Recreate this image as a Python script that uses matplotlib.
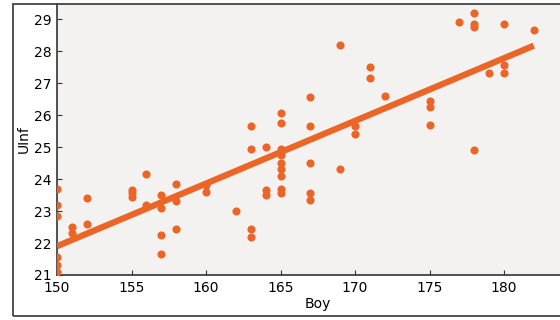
import numpy as np
import matplotlib
matplotlib.use("Agg")
import matplotlib.pyplot as plt
from matplotlib.patches import Rectangle

# data (Boy vs UInf)
boy_vals = {
    150: [23.7, 23.2, 22.85, 21.55, 21.3, 21.1],
    151: [22.5, 22.3],
    152: [23.4, 22.6],
    155: [23.65, 23.55, 23.45],
    156: [24.15, 23.2],
    157: [23.5, 23.1, 22.25, 21.65],
    158: [23.85, 23.3, 22.45],
    160: [23.8, 23.6],
    162: [23.0],
    163: [25.65, 24.95, 22.45, 22.2],
    164: [25.0, 23.65, 23.5],
    165: [26.05, 25.75, 24.95, 24.75, 24.5, 24.3, 24.1, 23.7, 23.55],
    167: [26.55, 25.65, 24.5, 23.55, 23.35],
    169: [28.2, 24.3],
    170: [25.65, 25.4],
    171: [27.5, 27.15],
    172: [26.6],
    175: [26.45, 26.25, 25.7],
    177: [28.9],
    178: [29.2, 28.85, 28.75, 24.9],
    179: [27.3],
    180: [28.85, 27.55, 27.3],
    182: [28.65],
}
boy = np.array([k for k, v in boy_vals.items() for _ in v], dtype=float)
uinf = np.array([y for v in boy_vals.values() for y in v], dtype=float)

x_ticks = [150, 155, 160, 165, 170, 175, 180]
y_ticks = [21, 22, 23, 24, 25, 26, 27, 28, 29]

fig = plt.figure(figsize=(5.6, 3.2), dpi=100, facecolor="white")
ax = fig.add_axes([57/560, 1-275/320, (578.5-57)/560, (275-4)/320])
ax.set_facecolor("#f3f2f0")

orange = "#ec6526"
ax.scatter(boy, uinf, s=34, color=orange, zorder=3, linewidths=0)

coef = np.polyfit(boy, uinf, 1)
xs = np.array([boy.min(), boy.max()])
ax.plot(xs, np.polyval(coef, xs), color=orange, lw=4.5, solid_capstyle="butt", zorder=4)

ax.set_xlim(150, 185)
ax.set_ylim(21, 29.47)
ax.set_xticks(x_ticks)
ax.set_yticks(y_ticks)
ax.tick_params(direction="in", length=3.5, width=0.8, labelsize=10, color="#333333", pad=4)
for s in ["top", "right"]:
    ax.spines[s].set_visible(False)
for s in ["left", "bottom"]:
    ax.spines[s].set_color("#333333")
    ax.spines[s].set_linewidth(1.2)
ax.set_xlabel("Boy", fontsize=10, labelpad=2)
ax.set_ylabel("UInf", fontsize=10, labelpad=2)

fig.patches.append(Rectangle((13/560, 1-316/320), 1.2, (316-4)/320, transform=fig.transFigure,
                             fill=False, edgecolor="#444444", lw=1.3, zorder=10))

fig.savefig("out.png", dpi=100)
